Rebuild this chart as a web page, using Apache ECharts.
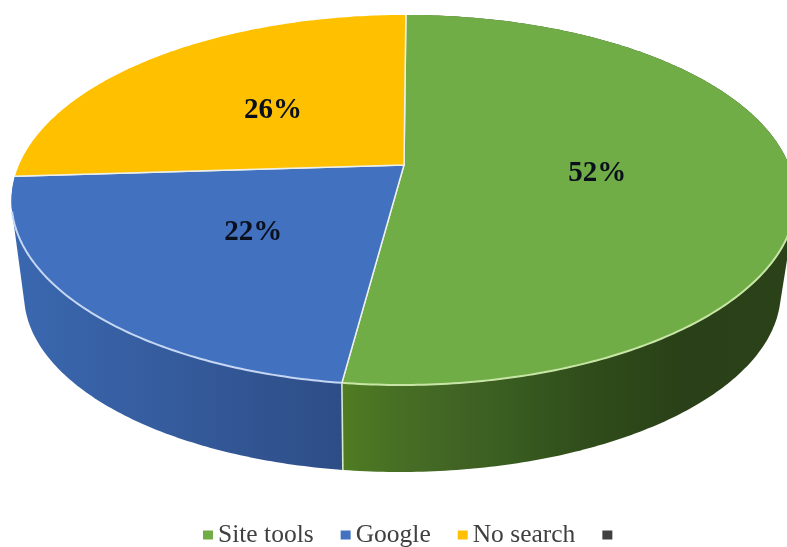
<!DOCTYPE html>
<html>
<head>
<meta charset="utf-8">
<style>html,body{margin:0;padding:0;background:#fff}#chart{width:787px;height:547px}</style>
<script src="https://cdn.jsdelivr.net/npm/echarts@6/dist/echarts.min.js"></script>
</head>
<body>
<div id="chart"></div>
<script>
// Share of visitors by how they search
const categories = ['Site tools', 'Google', 'No search', ' '];
const values = [52, 22, 26, 0];
const faceColors = ['#70ad47', '#4271c0', '#ffc000', '#404040'];
const rimColors = ['#c8e6a6', '#c6d7f4', '#ffe08a', '#404040'];
const wallStops = [
  [[0, '#507c22'], [0.12, '#476f24'], [0.25, '#416424'], [0.4, '#375a20'], [0.55, '#2f4c1a'], [0.75, '#2a4018'], [1, '#2b4219']],
  [[0, '#3a68b0'], [0.5, '#355b9c'], [1, '#2d4d86']],
  [[0, '#bf9000'], [1, '#bf9000']],
  [[0, '#404040'], [1, '#404040']]
];

// Perspective view of the pie's circular plate
const view = { x0: 404, y0: 165, a: 385, b: 178.4, k: 0.189, skew: -0.0125 };
const depth = { drop: 94.7, shrink: 0.965 };
// Angles (clockwise from the far point) between which the side wall faces the viewer
const wallTurn = { start: 0.55 * Math.PI, end: 1.42 * Math.PI };

function project(theta, radius, drop, scale) {
  const X = Math.sin(theta) * radius;
  const Y = -Math.cos(theta) * radius;
  const s = scale / (1 - view.k * Y);
  const y = view.y0 + drop + view.b * Y * s;
  return [view.x0 + view.a * X * s + view.skew * (y - view.y0), y];
}

function arc(from, to, drop, scale) {
  const steps = Math.max(2, Math.ceil((to - from) * 80));
  const pts = [];
  for (let i = 0; i <= steps; i++) {
    pts.push(project(from + (to - from) * i / steps, 1, drop, scale));
  }
  return pts;
}

// Outline of a wall section, including the straight silhouette edge of the cylinder
function hull(points) {
  const p = points.slice().sort((a, b) => a[0] - b[0] || a[1] - b[1]);
  const cross = (o, a, b) => (a[0] - o[0]) * (b[1] - o[1]) - (a[1] - o[1]) * (b[0] - o[0]);
  const build = list => {
    const out = [];
    list.forEach(q => {
      while (out.length > 1 && cross(out[out.length - 2], out[out.length - 1], q) <= 0) out.pop();
      out.push(q);
    });
    out.pop();
    return out;
  };
  return build(p).concat(build(p.slice().reverse()));
}

const total = values.reduce((a, b) => a + b, 0);
const spans = [];
values.reduce((start, v) => {
  const end = start + v / total * Math.PI * 2;
  spans.push([start, end]);
  return end;
}, 0);

function renderWall(params) {
  const i = params.dataIndex;
  const [from, to] = spans[i];
  if (to <= from || from > wallTurn.end) return null;
  const points = hull(arc(from, to, 0, 1).concat(arc(from, to, depth.drop, depth.shrink)));
  const xs = points.map(p => p[0]);
  const fill = new echarts.graphic.LinearGradient(
    Math.min(...xs), 0, Math.max(...xs), 0,
    wallStops[i].map(([offset, color]) => ({ offset, color })), true
  );
  const children = [{ type: 'polygon', shape: { points }, style: { fill } }];
  if (from > 0) {
    children.push({
      type: 'polyline',
      shape: { points: [project(from, 1, 0, 1), project(from, 1, depth.drop, depth.shrink)] },
      style: { fill: null, stroke: '#d8e8c8', lineWidth: 1.6 }
    });
  }
  return { type: 'group', children };
}

function renderFace(i) {
  return function () {
    const [from, to] = spans[i];
    if (to <= from) return null;
    const rim = arc(from, to, 0, 1);
    const centre = project(0, 0, 0, 1);
    const anchor = project((from + to) / 2, 0.5, 0, 1);
    const children = [
      { type: 'polygon', shape: { points: [centre].concat(rim) }, style: { fill: faceColors[i] } }
    ];
    // Only the rim above the side wall catches the light
    const litFrom = Math.max(from, wallTurn.start);
    const litTo = Math.min(to, wallTurn.end);
    if (litTo > litFrom) {
      children.push({
        type: 'polyline',
        shape: { points: arc(litFrom, litTo, 0, 1) },
        style: { fill: null, stroke: rimColors[i], lineWidth: 2 }
      });
    }
    children.push(
      {
        type: 'polyline',
        shape: { points: [rim[0], centre, rim[rim.length - 1]] },
        style: { fill: null, stroke: '#eef0ea', lineWidth: 1.5 }
      },
      {
        type: 'text',
        x: anchor[0],
        y: anchor[1] + 2.5,
        style: {
          text: values[i] + '%',
          fill: '#0a0f1c',
          font: 'bold 29px "Liberation Serif"',
          align: 'center',
          verticalAlign: 'middle'
        }
      }
    );
    return { type: 'group', children };
  };
}

const chart = echarts.init(document.getElementById('chart'), null, { renderer: 'canvas' });
chart.setOption({
  animation: false,
  backgroundColor: '#ffffff',
  legend: {
    data: categories,
    icon: 'rect',
    left: 198,
    top: 517,
    itemWidth: 10,
    itemHeight: 9,
    itemGap: 27,
    selectedMode: false,
    textStyle: { fontFamily: 'Liberation Serif', fontSize: 25.5, color: '#404040' }
  },
  series: [
    {
      type: 'custom',
      name: 'walls',
      coordinateSystem: 'none',
      z: 1,
      silent: true,
      renderItem: renderWall,
      data: values
    }
  ].concat(categories.map((name, i) => ({
    type: 'custom',
    name,
    coordinateSystem: 'none',
    z: 2,
    silent: true,
    itemStyle: { color: faceColors[i] },
    renderItem: renderFace(i),
    data: [values[i]]
  })))
});
</script>
</body>
</html>
